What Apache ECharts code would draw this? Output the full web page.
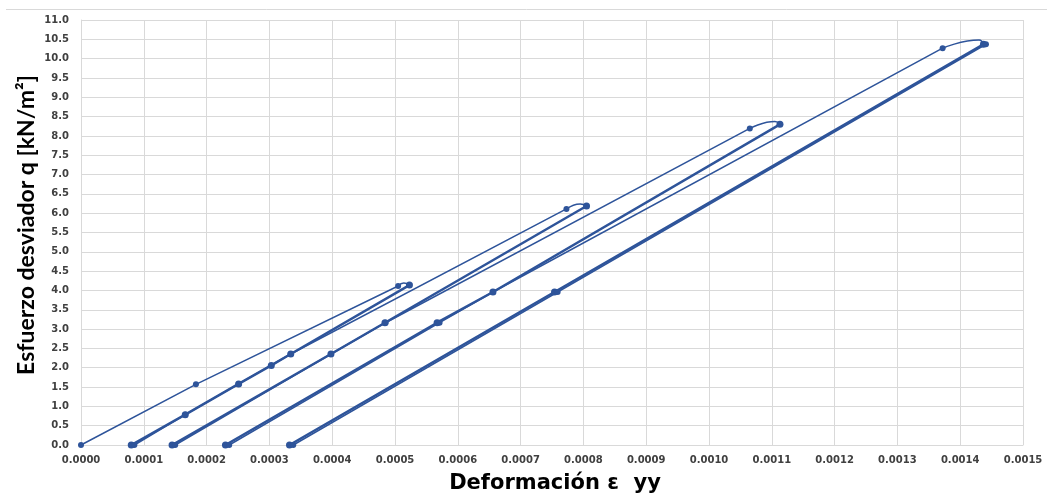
<!DOCTYPE html>
<html>
<head>
<meta charset="utf-8">
<script src="https://cdn.jsdelivr.net/npm/echarts@6/dist/echarts.min.js"></script>
<style>
html,body{margin:0;padding:0;background:#ffffff;}
#chart{width:1047px;height:495px;}
</style>
</head>
<body>
<div id="chart"></div>
<script>
// ---- Data: [deformation εyy, deviator stress q] ----
const load1   = [[0,0],[0.000183,1.57],[0.000505,4.115]];
const arch1   = [[0.000505,4.115],[0.000514,4.19],[0.000523,4.14]];
const unload1 = [[0.000523,4.14],[0.000334,2.355],[0.000303,2.06],[0.000251,1.58],[0.000166,0.785],[0.000080,0]];

const load2   = [[0.000085,0],[0.000166,0.785],[0.000251,1.58],[0.000334,2.355],[0.000773,6.11]];
const arch2   = [[0.000773,6.11],[0.000795,6.24],[0.000805,6.185]];
const unload2 = [[0.000805,6.185],[0.000484,3.165],[0.000398,2.355],[0.000145,0]];

const load3   = [[0.000150,0],[0.000398,2.355],[0.000485,3.165],[0.001065,8.195]];
const arch3   = [[0.001065,8.195],[0.001105,8.37],[0.001113,8.30]];
const unload3 = [[0.001113,8.30],[0.000656,3.96],[0.000567,3.165],[0.000230,0]];

const load4   = [[0.000236,0],[0.000571,3.165],[0.000656,3.96],[0.001372,10.27]];
const arch4   = [[0.001372,10.27],[0.001430,10.48],[0.001437,10.37]];
const unload4 = [[0.001437,10.37],[0.000754,3.96],[0.000332,0]];

const load5   = [[0.000338,0],[0.000759,3.96],[0.001441,10.37]];

const xTitle = 'Deformación ε  yy';
const yTitle = 'Esfuerzo desviador q [kN/m²]';

// ---- Styling ----
const COLOR = '#2E549A';
const GRID = '#d9d9d9';

function thin(data){
  return {type:'line', data:data, showAllSymbol:true, symbol:'circle', symbolSize:6,
    lineStyle:{color:COLOR,width:1.5}, itemStyle:{color:COLOR}, smooth:false, z:3};
}
function thick(data){
  return {type:'line', data:data, showAllSymbol:true, symbol:'circle', symbolSize:7,
    lineStyle:{color:COLOR,width:2.5}, itemStyle:{color:COLOR}, smooth:false, z:2};
}
function arch(data){
  return {type:'line', data:data, showSymbol:false, symbol:'none',
    lineStyle:{color:COLOR,width:1.5}, smooth:0.5, z:3};
}

const chart = echarts.init(document.getElementById('chart'), null, {renderer:'canvas'});
chart.setOption({
  animation:false,
  backgroundColor:'#ffffff',
  grid:{left:81, right:24, top:20, bottom:50, containLabel:false},
  xAxis:{
    type:'value', min:0, max:0.0015, interval:0.0001,
    axisLine:{show:true, lineStyle:{color:GRID,width:1}},
    axisTick:{show:false},
    splitLine:{show:true, lineStyle:{color:GRID,width:1}},
    axisLabel:{formatter:v=>v.toFixed(4), color:'#404040', fontFamily:'DejaVu Sans', fontWeight:'bold', fontSize:10, margin:10}
  },
  yAxis:{
    type:'value', min:0, max:11, interval:0.5,
    axisLine:{show:true, lineStyle:{color:GRID,width:1}},
    axisTick:{show:false},
    splitLine:{show:true, lineStyle:{color:GRID,width:1}},
    axisLabel:{formatter:v=>v.toFixed(1), color:'#404040', fontFamily:'DejaVu Sans', fontWeight:'bold', fontSize:10, margin:12}
  },
  graphic:[
    {type:'line', shape:{x1:6,y1:9.5,x2:1047,y2:9.5}, style:{stroke:'#d9d9d9',lineWidth:1}},
    {type:'text', x:27, y:225, rotation:Math.PI/2,
      style:{text:yTitle, font:'bold 23px Lato', fill:'#000000', textAlign:'center', textVerticalAlign:'middle'}},
    {type:'text', x:555, y:484,
      style:{text:xTitle, font:'bold 21px "DejaVu Sans"', fill:'#000000', textAlign:'center', textVerticalAlign:'middle'}}
  ],
  series:[
    thin(load1), arch(arch1), thick(unload1),
    thin(load2), arch(arch2), thick(unload2),
    thin(load3), arch(arch3), thick(unload3),
    thin(load4), arch(arch4), thick(unload4),
    thin(load5)
  ]
});
</script>
</body>
</html>
